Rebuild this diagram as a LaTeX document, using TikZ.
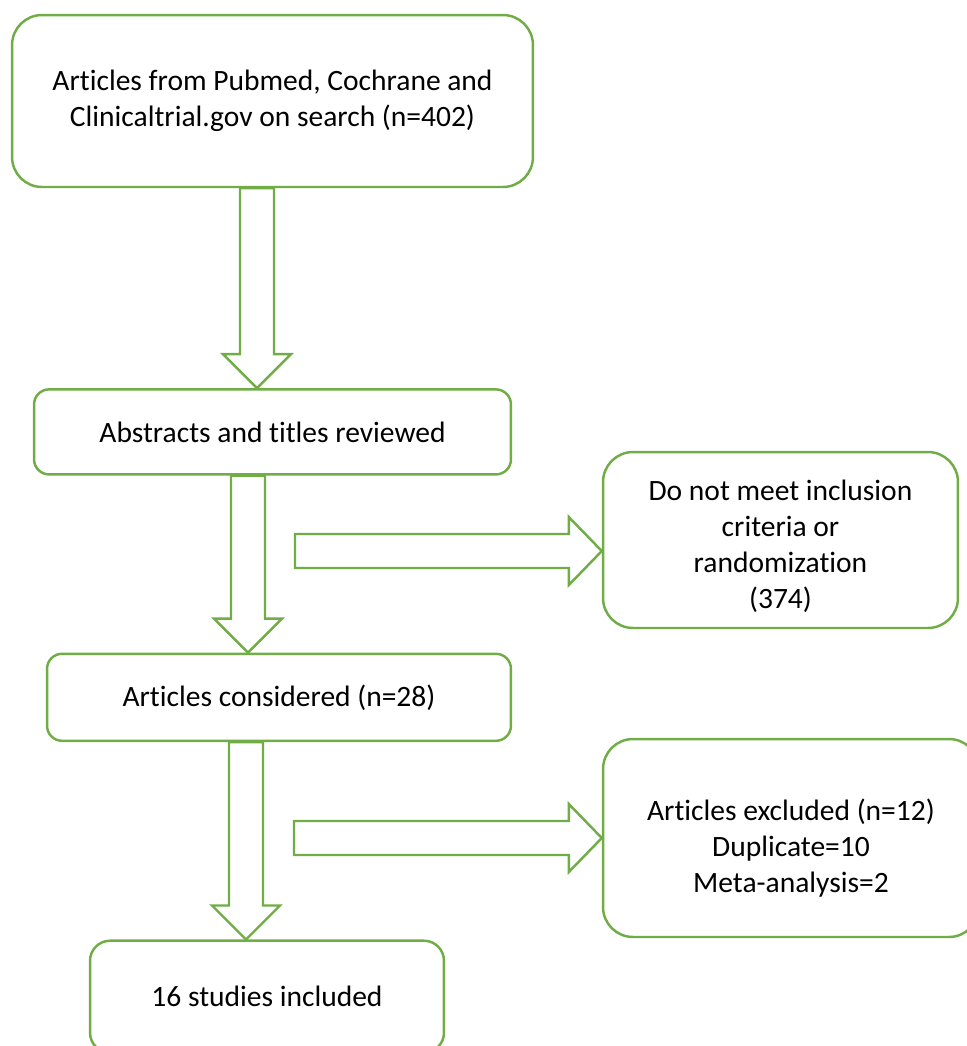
\documentclass[tikz,border=0pt]{standalone}
\usepackage{fontspec}
\setmainfont{Carlito}[Ligatures={NoCommon}]
\usepackage{tikz}
\usetikzlibrary{positioning, calc}
\definecolor{flowgreen}{HTML}{70AD47}
\tikzstyle{box} = [draw=flowgreen, line width=1.4pt, rectangle, rounded corners=0.3cm, align=center, font=\fontsize{16.8}{20.5}\selectfont]
\tikzstyle{bigbox} = [box, rounded corners=0.6cm]
\tikzstyle{flowarrow} = [draw=flowgreen, line width=1.4pt, line join=miter]
% hollow block arrows: #1 start of shaft, #2 tip
\newcommand{\flowdown}[2]{%
  \draw[flowarrow] ($(#1)+(-17,0)$) -- ($(#2)+(-17,-34)$) -- ($(#2)+(-34,-34)$) -- (#2)
    -- ($(#2)+(34,-34)$) -- ($(#2)+(17,-34)$) -- ($(#1)+(17,0)$) -- cycle;}
\newcommand{\flowright}[2]{%
  \draw[flowarrow] ($(#1)+(0,-17)$) -- ($(#2)+(-33,-17)$) -- ($(#2)+(-33,-34)$) -- (#2)
    -- ($(#2)+(-33,34)$) -- ($(#2)+(-33,17)$) -- ($(#1)+(0,17)$) -- cycle;}

\begin{document}
\begin{tikzpicture}[x=0.02cm, y=-0.02cm]
    \useasboundingbox (0,0) rectangle (967,1046);
    \clip (0,0) rectangle (967,1046);
    % We start by placing the blocks
    \node [bigbox, minimum width=10.42cm, minimum height=3.44cm] (search) at (272.5,101)
        {Articles from Pubmed, Cochrane and\\Clinicaltrial.gov on search (n=402)};
    \node [box, minimum width=9.54cm, minimum height=1.7cm, below=4.0cm of search] (screened)
        {Abstracts and titles reviewed};
    \node [box, minimum width=9.28cm, minimum height=1.74cm, below=3.54cm of screened, xshift=0.13cm] (considered)
        {Articles considered (n=28)};
    \node [box, rounded corners=0.4cm, minimum width=7.08cm, minimum height=2.24cm, below=3.95cm of considered, xshift=-0.24cm] (included)
        {16 studies included};
    \node [bigbox, minimum width=7.1cm, minimum height=3.52cm] (excl1) at (780.5,540)
        {\rule{0pt}{18.5pt}Do not meet inclusion\\criteria or\\randomization\\(374)};
    \node [bigbox, minimum width=7.52cm, minimum height=3.96cm] (excl2) at (791,838)
        {\rule{0pt}{24pt}Articles excluded (n=12)\\Duplicate=10\\Meta-analysis=2};

    % end points of the arrows
    \path (search.south) ++(-15.5,0) coordinate (a1s);
    \coordinate (a1t) at (a1s |- screened.north);
    \path (screened.south) ++(-24.5,0) coordinate (a2s);
    \coordinate (a2t) at (a2s |- considered.north);
    \path (considered.south) ++(-33,0) coordinate (a3s);
    \coordinate (a3t) at (a3s |- included.north);
    \coordinate (r1s) at (295,551);
    \coordinate (r1t) at (r1s -| excl1.west);
    \coordinate (r2s) at (294,838);
    \coordinate (r2t) at (r2s -| excl2.west);

    \flowdown{a1s}{a1t}
    \flowdown{a2s}{a2t}
    \flowdown{a3s}{a3t}
    \flowright{r1s}{r1t}
    \flowright{r2s}{r2t}
\end{tikzpicture}
\end{document}
